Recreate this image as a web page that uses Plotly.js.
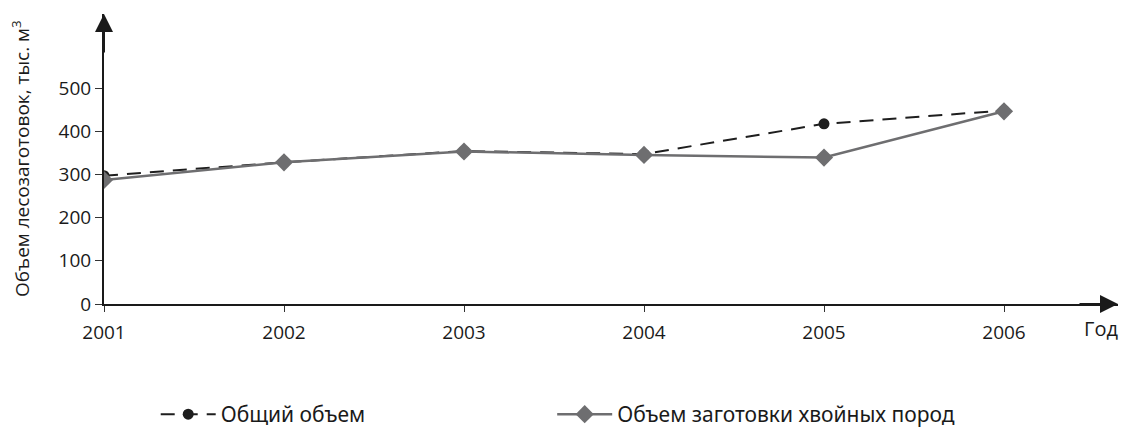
<!DOCTYPE html>
<html>
<head>
<meta charset="utf-8">
<script src="https://cdn.plot.ly/plotly-3.0.1.min.js"></script>
<style>html,body{margin:0;padding:0;background:#fff;}#chart{width:1122px;height:435px;}</style>
</head>
<body>
<div id="chart"></div>
<script>
const years = [2001, 2002, 2003, 2004, 2005, 2006];
const totalVolume = [297, 328, 354, 347, 417, 448];
const coniferVolume = [287, 328, 353, 345, 339, 446];
const yTicks = [0, 100, 200, 300, 400, 500];
const seriesNames = ['Общий объем', 'Объем заготовки хвойных пород'];
const yTitle = 'Объем лесозаготовок, тыс. м<sup>3</sup>';
const xTitle = 'Год';

const fontFam = '"Open Sans", "Noto Sans", sans-serif';
const legendFont = {size: 21, family: '"Noto Sans", sans-serif', color: '#1a1a1a'};

const traces = [
  {
    x: years, y: totalVolume, name: seriesNames[0], type: 'scatter', mode: 'lines+markers',
    legend: 'legend',
    line: {color: '#1e1e1e', width: 2, dash: '14px,9px'},
    marker: {symbol: 'circle', size: 11, color: '#1e1e1e'}
  },
  {
    x: years, y: coniferVolume, name: seriesNames[1], type: 'scatter', mode: 'lines+markers',
    legend: 'legend2',
    line: {color: '#6e6e70', width: 2.5},
    marker: {symbol: 'diamond', size: 14, color: '#6e6e70'}
  }
];

const xMax = 2001 + 1014 / 180;
const yMax = 290 / 0.432;

const layout = {
  width: 1122, height: 435,
  margin: {l: 104, r: 4, t: 14, b: 131, autoexpand: false},
  paper_bgcolor: '#fff', plot_bgcolor: '#fff',
  showlegend: true,
  font: {family: fontFam, color: '#1a1a1a', size: 19},
  xaxis: {
    range: [2001, xMax], tickvals: years, ticktext: years.map(String),
    showgrid: false, zeroline: false, showline: true, linecolor: '#1a1a1a', linewidth: 2,
    ticks: 'outside', ticklen: 6, tickwidth: 1, tickcolor: '#333',
    ticklabelstandoff: 4, automargin: false,
    tickfont: {size: 19, family: fontFam}
  },
  yaxis: {
    range: [0, yMax], tickvals: yTicks, ticktext: yTicks.map(String),
    showgrid: false, zeroline: false, showline: true, linecolor: '#1a1a1a', linewidth: 2,
    ticks: 'outside', ticklen: 7, tickwidth: 1, tickcolor: '#333', automargin: false,
    tickfont: {size: 19, family: fontFam}
  },
  legend: {
    orientation: 'h', x: 0.051, xanchor: 'left', y: -0.4517, yanchor: 'bottom',
    font: legendFont, itemwidth: 55, bgcolor: 'rgba(0,0,0,0)'
  },
  legend2: {
    orientation: 'h', x: 0.442, xanchor: 'left', y: -0.4517, yanchor: 'bottom',
    font: legendFont, itemwidth: 55, bgcolor: 'rgba(0,0,0,0)'
  },
  annotations: [
    {x: 2001, y: 1, xref: 'x', yref: 'paper', ax: 0, ay: 40, axref: 'pixel', ayref: 'pixel',
     showarrow: true, arrowhead: 2, arrowsize: 1.8, arrowwidth: 2, arrowcolor: '#1a1a1a', text: ''},
    {x: 1, y: 0, xref: 'paper', yref: 'y', ax: -40, ay: 0, axref: 'pixel', ayref: 'pixel',
     showarrow: true, arrowhead: 2, arrowsize: 1.8, arrowwidth: 2, arrowcolor: '#1a1a1a', text: ''},
    {x: 0, y: 0.5, xref: 'paper', yref: 'paper', xanchor: 'center', yanchor: 'middle', xshift: -83,
     textangle: -90, showarrow: false, text: yTitle, font: {size: 19, family: fontFam}},
    {x: 1, y: 0, xref: 'paper', yref: 'paper', xanchor: 'right', yanchor: 'middle', xshift: 2, yshift: -24,
     showarrow: false, text: xTitle, font: {size: 20, family: fontFam}}
  ]
};

Plotly.newPlot('chart', traces, layout, {displayModeBar: false, staticPlot: true});
</script>
</body>
</html>
